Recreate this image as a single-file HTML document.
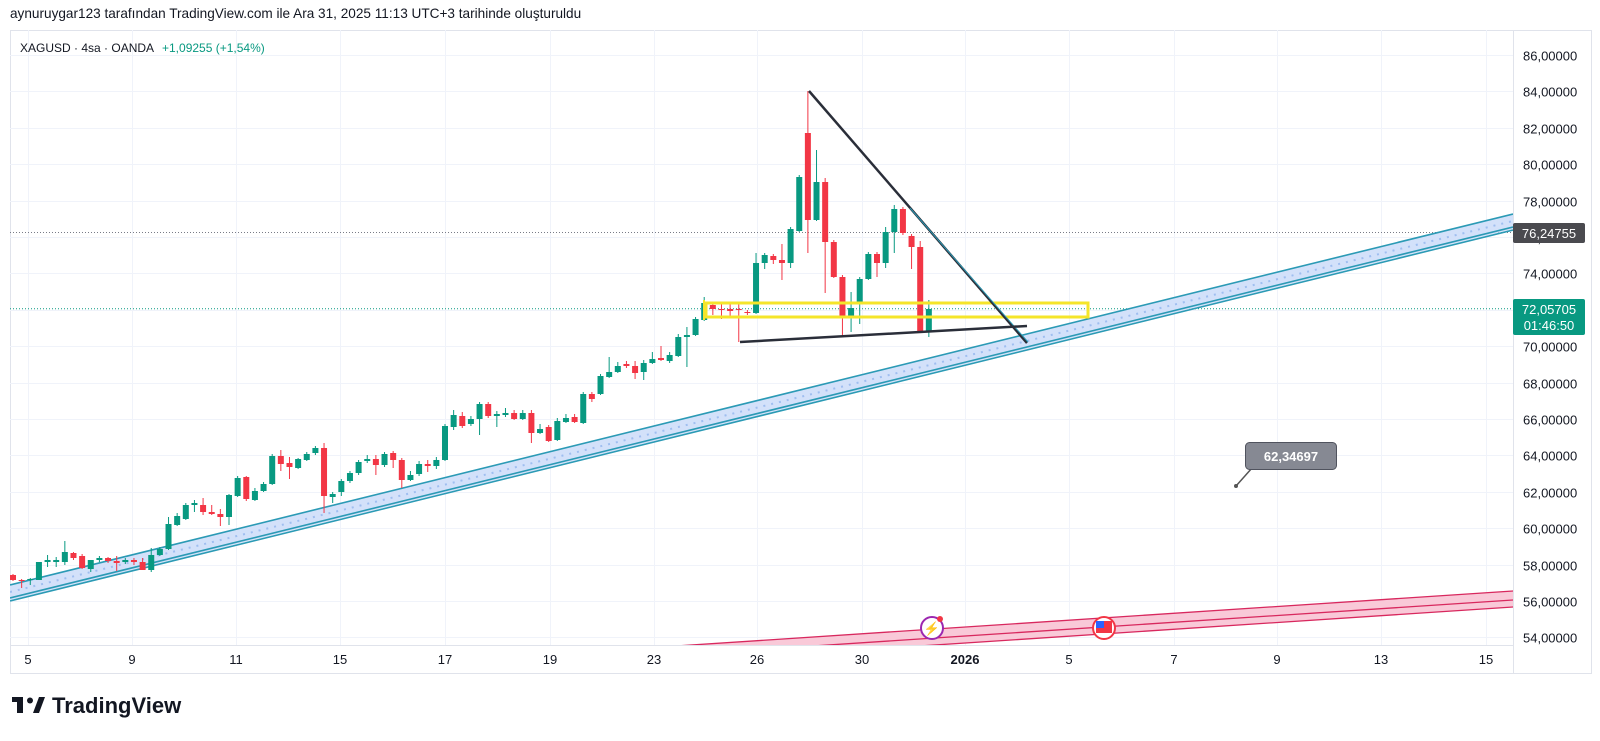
<!DOCTYPE html>
<html><head><meta charset="utf-8"><style>
html,body{margin:0;padding:0;background:#fff;width:1600px;height:741px;overflow:hidden;font-family:"Liberation Sans",sans-serif}
svg{position:absolute;left:0;top:0}
</style></head><body>
<svg id="s" width="1600" height="741" xmlns="http://www.w3.org/2000/svg">
<defs><clipPath id="pane"><rect x="10" y="30" width="1503" height="615"/></clipPath></defs>
<text x="10" y="18" font-size="13.6" fill="#131722">aynuruygar123 tarafından TradingView.com ile Ara 31, 2025 11:13 UTC+3 tarihinde oluşturuldu</text>
<rect x="10.5" y="30.5" width="1581" height="643" fill="none" stroke="#e0e3eb"/>
<line x1="1513.5" y1="30" x2="1513.5" y2="673" stroke="#e0e3eb"/>
<line x1="10" y1="645.5" x2="1513" y2="645.5" stroke="#e0e3eb"/>
<g id="grid" stroke="#f0f3fa" stroke-width="1"></g>
<g id="axis" font-size="13" fill="#131722"></g>
<g clip-path="url(#pane)" id="plot">
  <line x1="10" y1="232.5" x2="1513" y2="232.5" stroke="#787b86" stroke-dasharray="1,2"/>
  <line x1="10" y1="308.8" x2="1513" y2="308.8" stroke="#089981" stroke-dasharray="1,2"/>
  <!-- blue channel -->
  <polygon points="10,585 1513,214 1513,229 10,600" fill="#d3e1fa"/>
  <line x1="10" y1="585" x2="1513" y2="214" stroke="#2b9ab5" stroke-width="1.6"/>
  <line x1="10" y1="592" x2="1513" y2="221" stroke="#9fbef0" stroke-width="2" stroke-dasharray="2,6"/>
  <line x1="10" y1="598" x2="1513" y2="227" stroke="#2b9ab5" stroke-width="1.6"/>
  <line x1="10" y1="601" x2="1513" y2="230" stroke="#2b9ab5" stroke-width="1.6"/>
  <!-- pink channel -->
  <polygon points="600,651 1513,591 1513,607 600,667" fill="#f9c9d8"/>
  <line x1="600" y1="651" x2="1513" y2="591" stroke="#d8285e" stroke-width="1.3"/>
  <line x1="600" y1="660" x2="1513" y2="600" stroke="#d8285e" stroke-width="1.3"/>
  <line x1="600" y1="667" x2="1513" y2="607" stroke="#d8285e" stroke-width="1.3"/>
  <g id="candles"></g>
  <!-- yellow box -->
  <rect x="706" y="303" width="382" height="14" fill="none" stroke="#f5e52a" stroke-width="3"/>
  <line x1="704" y1="300" x2="704" y2="320" stroke="#f5e52a" stroke-width="2"/>
  <!-- black lines -->
  <line x1="809" y1="91" x2="1027" y2="343" stroke="#2a2e39" stroke-width="2.5"/>
  <line x1="908" y1="208" x2="1026" y2="342" stroke="#2b9ab5" stroke-width="1" transform="translate(2,0)"/>
  <line x1="740" y1="342" x2="1027" y2="326" stroke="#2a2e39" stroke-width="2.5"/>
  <!-- callout -->
  <line x1="1236" y1="486" x2="1252" y2="468" stroke="#555" stroke-width="1.5"/>
  <circle cx="1236" cy="486" r="2" fill="#555"/>
  <rect x="1245.5" y="442.5" width="91" height="27" rx="4" fill="#868993" stroke="#50535e"/>
  <text x="1291" y="461" font-size="13" font-weight="bold" fill="#fff" text-anchor="middle">62,34697</text>
  <!-- icons -->
  <circle cx="932" cy="628" r="11" fill="#fff" stroke="#9c27b0" stroke-width="2"/>
  <text x="932" y="633" font-size="13" fill="#9c27b0" text-anchor="middle">⚡</text>
  <circle cx="940" cy="619" r="3" fill="#f23645"/>
  <circle cx="1104" cy="628" r="11" fill="#fff" stroke="#f23645" stroke-width="2"/>
  <rect x="1096" y="621" width="16" height="12" fill="#f23645"/>
  <rect x="1096" y="621" width="8" height="7" fill="#2962ff"/>
</g>
<text x="20" y="52" font-size="12" fill="#131722">XAGUSD · 4sa · OANDA</text>
<text x="162" y="52" font-size="12" fill="#089981">+1,09255 (+1,54%)</text>
<!-- price labels -->
<rect x="1513" y="223" width="72" height="20" rx="2" fill="#4a4a4f"/>
<text x="1549" y="238" font-size="13" fill="#fff" text-anchor="middle">76,24755</text>
<rect x="1513" y="299" width="72" height="36" rx="2" fill="#089981"/>
<text x="1549" y="314" font-size="13" fill="#fff" text-anchor="middle">72,05705</text>
<text x="1549" y="330" font-size="13" fill="#fff" text-anchor="middle">01:46:50</text>
<!-- logo -->
<g transform="translate(12,697)">
  <rect x="0" y="0" width="11" height="5" fill="#131722"/><rect x="5" y="0" width="6" height="16" fill="#131722"/>
  <circle cx="18" cy="3.5" r="3" fill="#131722"/>
  <polygon points="21,16 27,0 33,0 27,16" fill="#131722"/>
  <text x="40" y="16" font-size="22" font-weight="bold" fill="#131722">TradingView</text>
</g>
</svg>
<script>
var NS="http://www.w3.org/2000/svg";
function el(t,a,p){var e=document.createElementNS(NS,t);for(var k in a)e.setAttribute(k,a[k]);(p||document.getElementById('s')).appendChild(e);return e;}
function yP(p){return 55+(86-p)*18.2;}
var grid=document.getElementById('grid'),axis=document.getElementById('axis');
for(var p=86;p>=54;p-=2){var y=Math.round(yP(p))+0.5;el('line',{x1:10,y1:y,x2:1513,y2:y},grid);
 var t=el('text',{x:1523,y:y+5},axis);t.textContent=p+",00000";}
var xl=[["5",28],["9",132],["11",236],["15",340],["17",445],["19",550],["23",654],["26",757],["30",862],["2026",965],["5",1069],["7",1174],["9",1277],["13",1381],["15",1486]];
xl.forEach(function(a){el('line',{x1:a[1]+0.5,y1:30,x2:a[1]+0.5,y2:645},grid);
 var t=el('text',{x:a[1],y:664,'text-anchor':'middle','font-weight':a[0]=="2026"?'bold':'normal'},axis);t.textContent=a[0];});
var C=[
"r575,580,574,581","r580,581,579,588","g579,580,578,585","g562,580,562,580","g560,562,555,567","g560,562,557,567","g552,562,541,565","r553,558,552,560","r556,568,554,569","g560,569,560,572",
"g558,560,556,562","r558,561,557,563","r561,563,556,571","g560,562,558,564","r560,562,558,565","r562,570,558,570","g555,570,548,572","g549,555,547,556","g524,549,517,550","g516,525,513,526",
"g505,519,503,520","g503,505,500,512","r505,512,498,515","r512,514,505,515","r514,517,509,526","g495,517,494,525","g478,496,476,497","r477,499,476,501","g491,500,488,501","g484,491,482,492",
"g456,484,454,485","r456,464,450,471","r463,467,457,479","g459,468,458,469","g454,460,452,461","g448,453,446,455","r448,496,443,513","g494,497,492,503","g481,492,479,496","g473,481,471,483",
"g462,473,460,475","g459,461,455,463","r459,465,455,475","g454,465,452,467","r453,460,451,468","r460,480,458,488","g475,480,471,481","g464,474,461,476","r464,466,460,472","g460,466,457,469",
"g426,460,424,461","g415,427,410,430","r416,426,412,428","g419,424,416,426","g404,419,402,435","r404,416,402,418","g414,416,411,427","g413,415,408,417","r413,419,410,420","g413,419,410,420",
"r413,433,410,443","g429,433,424,434","r427,441,425,442","g421,440,418,441","g418,422,414,423","r417,422,414,423","g394,423,392,424","r394,399,392,402","g376,394,374,395","g372,377,357,378",
"g366,372,362,373","r364,366,361,368","r366,373,361,379","g363,372,360,380","g359,363,352,364","r358,360,346,361","g355,361,352,363","g337,356,334,357","g335,337,327,367","g319,335,317,336",
"g303,320,297,321","r305,309,302,315","r309,310,303,319","r309,311,304,318","r309,310,304,342","r312,313,310,315","g263,313,253,314","g255,263,253,269","r256,260,254,264","r260,263,244,280",
"g229,263,227,268","g177,231,175,232","r133,220,91,253","g182,220,150,221","r182,242,178,293","r242,277,240,278","r277,316,275,336","g308,316,292,332","g279,302,277,324","g254,279,252,280",
"r254,263,252,277","g232,263,227,268","g209,232,205,253","r209,233,207,235","r236,247,234,269","r247,331,241,332","g309,331,300,337"];
var cg=document.getElementById('candles');
C.forEach(function(s,i){var col=s[0]=='g'?'#089981':'#f23645';var v=s.slice(1).split(',').map(Number);var x=13+i*8.64;
 el('line',{x1:x,y1:v[2],x2:x,y2:v[3],stroke:col,'stroke-width':1},cg);
 el('rect',{x:x-3,y:v[0],width:6,height:Math.max(1,v[1]-v[0]),fill:col},cg);});
</script>
</body></html>
